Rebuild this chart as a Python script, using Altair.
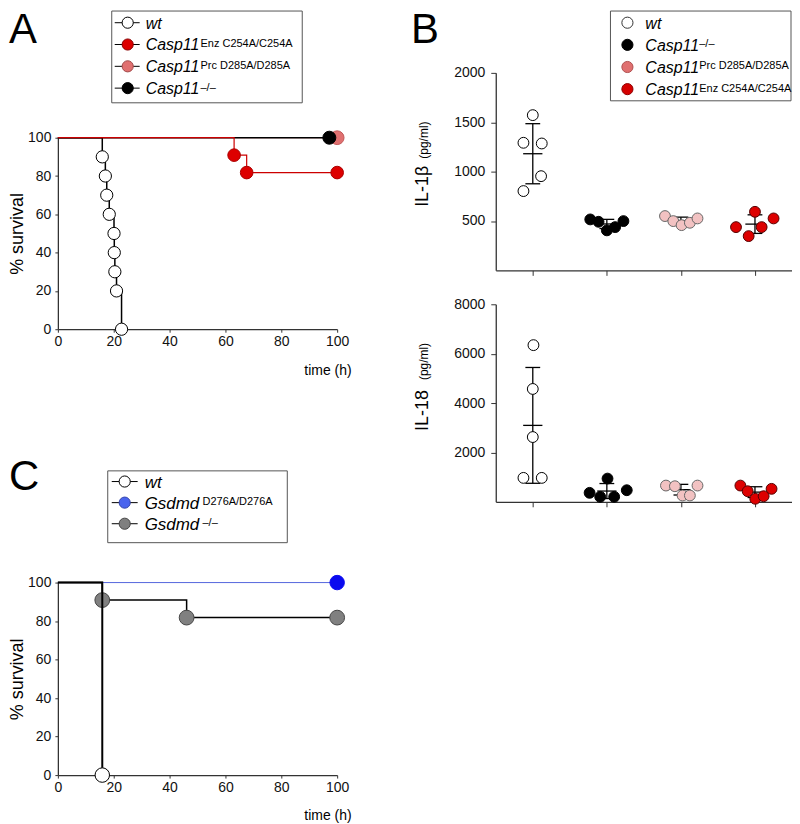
import altair as alt
import pandas as pd

FONT = "Liberation Sans"

# ---------------- Panel A: survival, Casp11 lines ----------------
A_WT_T = [0, 15.9, 17.0, 17.5, 18.4, 20.1, 20.2, 20.4, 21.0, 22.8]
A_WT_S = [100, 90, 80, 70, 60, 50, 40, 30, 20, 0]
A_ENZ_T = [0, 63.1, 67.6, 100]
A_ENZ_S = [100, 90.9, 81.8, 81.8]
A_PRC_T = [0, 100]
A_PRC_S = [100, 100]
A_KO_T = [0, 97.2]
A_KO_S = [100, 100]

# ---------------- Panel C: survival, Gsdmd lines ----------------
C_WT_T = [0, 15.9]
C_WT_S = [100, 0]
C_D276_T = [0, 100]
C_D276_S = [100, 100]
C_KO_T = [0, 15.9, 46.1, 100]
C_KO_S = [100, 90.9, 81.8, 81.8]

SURV_TICKS = [0, 20, 40, 60, 80, 100]

# ---------------- Panel B: cytokines ----------------
B_GROUPS = ["wt", "Casp11-/-", "Casp11 Prc", "Casp11 Enz"]
IL1B_WT = [1572, 1292, 1285, 954, 803]
IL1B_WT_DX = [0.0, -0.126, 0.121, 0.112, -0.126]
IL1B_KO = [516, 492, 405, 438, 499]
IL1B_KO_DX = [-0.224, -0.112, 0.0, 0.112, 0.224]
IL1B_PRC = [550, 499, 458, 482, 526]
IL1B_PRC_DX = [-0.215, -0.103, 0.009, 0.121, 0.224]
IL1B_ENZ = [438, 347, 593, 438, 526]
IL1B_ENZ_DX = [-0.256, -0.085, 0.0, 0.09, 0.251]

IL18_WT = [6345, 4570, 2622, 968, 968]
IL18_WT_DX = [0.009, 0.0, 0.0, -0.126, 0.121]
IL18_KO = [363, 202, 940, 202, 468]
IL18_KO_DX = [-0.233, -0.09, 0.009, 0.099, 0.269]
IL18_PRC = [657, 630, 254, 254, 657]
IL18_PRC_DX = [-0.202, -0.081, 0.022, 0.121, 0.224]
IL18_ENZ = [657, 428, 121, 226, 524]
IL18_ENZ_DX = [-0.197, -0.099, 0.004, 0.117, 0.224]

IL1B_TICKS = [500, 1000, 1500, 2000]
IL18_TICKS = [2000, 4000, 6000, 8000]

# ---------------- Legends ----------------
A_LEG_MAIN = ["wt", "Casp11", "Casp11", "Casp11"]
A_LEG_SUP = ["", "Enz C254A/C254A", "Prc D285A/D285A", "\u2013/\u2013"]
B_LEG_MAIN = ["wt", "Casp11", "Casp11", "Casp11"]
B_LEG_SUP = ["", "\u2013/\u2013", "Prc D285A/D285A", "Enz C254A/C254A"]
C_LEG_MAIN = ["wt", "Gsdmd", "Gsdmd"]
C_LEG_SUP = ["", "D276A/D276A", "\u2013/\u2013"]

AX = "#333333"
ONE = pd.DataFrame({"k": [0]})


def surv_plot(series):
    xax = alt.Axis(values=SURV_TICKS, title="time (h)", titleAnchor="end", titleAlign="right",
                   titleX=294, titleY=41, titleBaseline="middle", titleFontSize=14,
                   titleFontWeight="normal", labelFontSize=14, tickSize=3, labelPadding=2,
                   grid=False, domainColor=AX, tickColor=AX, domainWidth=1.3, labelColor="#111",
                   labelFlush=False)
    yax = alt.Axis(values=SURV_TICKS, title="% survival", titleFontSize=18, titleFontWeight="normal",
                   titlePadding=1, labelFontSize=14, tickSize=3, labelPadding=4, grid=False,
                   domainColor=AX, tickColor=AX, domainWidth=1.3, labelColor="#111")
    layers = []
    for t, s, lc, lw, fc, sc, sz in series:
        df = pd.DataFrame({"t": t, "s": s, "i": list(range(len(t)))})
        x = alt.X("t:Q", scale=alt.Scale(domain=[0, 100], nice=False, zero=False), axis=xax)
        y = alt.Y("s:Q", scale=alt.Scale(domain=[0, 100], nice=False), axis=yax)
        layers.append(alt.Chart(df).mark_line(interpolate="step-after", color=lc, strokeWidth=lw)
                      .encode(x=x, y=y, order="i:Q"))
        layers.append(alt.Chart(df).transform_filter("datum.i > 0")
                      .mark_circle(size=sz, opacity=1, fill=fc, stroke=sc, strokeWidth=1)
                      .encode(x=x, y=y))
    return alt.layer(*layers)


def legend(main, sup, fills, strokes, rows, box, dot_x, text_x, sup_x, seg, main_size,
           letter, letter_xy):
    n = len(main)
    keys = [str(i) for i in range(n)]
    df = pd.DataFrame({"row": list(range(n)), "main": main, "sup": sup, "key": keys})
    y = alt.Y("row:Q", scale=alt.Scale(domain=[0, n - 1], range=list(rows)), axis=None)
    layers = [
        alt.Chart(ONE).mark_rect(fill="white", stroke="#555555", strokeWidth=1).encode(
            x=alt.value(box[0]), x2=alt.value(box[1]), y=alt.value(box[2]), y2=alt.value(box[3]))
    ]
    if seg is not None:
        layers.append(alt.Chart(df).mark_rule(color="black", strokeWidth=1).encode(
            x=alt.value(seg[0]), x2=alt.value(seg[1]), y=y))
    layers.append(alt.Chart(df).mark_circle(size=125, opacity=1, strokeWidth=1).encode(
        x=alt.value(dot_x), y=y,
        fill=alt.Fill("key:N", scale=alt.Scale(domain=keys, range=fills), legend=None),
        stroke=alt.Stroke("key:N", scale=alt.Scale(domain=keys, range=strokes), legend=None)))
    layers.append(alt.Chart(df).mark_text(align="left", baseline="alphabetic", dy=6,
                                          fontSize=main_size, fontStyle="italic", color="black")
                  .encode(x=alt.value(text_x), y=y, text="main:N"))
    layers.append(alt.Chart(df).mark_text(align="left", baseline="alphabetic", dy=2.5,
                                          fontSize=11, color="black")
                  .encode(x=alt.value(sup_x), y=y, text="sup:N"))
    layers.append(alt.Chart(ONE).mark_text(text=letter, align="left", baseline="alphabetic",
                                           fontSize=42, color="black")
                  .encode(x=alt.value(letter_xy[0]), y=alt.value(letter_xy[1])))
    return alt.layer(*layers)


B_FILL = ["white", "black", "#f2c2c2", "#dd0000"]
B_STROKE = ["black", "black", "#666666", "#550000"]


def b_plot(vals_list, dx_list, ymax, ticks, ttl_main, ttl_y_main, ttl_y_sub):
    rows = []
    for gi, (vals, dxs) in enumerate(zip(vals_list, dx_list)):
        for v, d in zip(vals, dxs):
            rows.append({"grp": B_GROUPS[gi], "gi": gi, "v": v, "xp": gi + d})
    df = pd.DataFrame(rows)
    xs = alt.Scale(domain=[-0.5, 3.5], nice=False, zero=False)
    ys = alt.Scale(domain=[0, ymax], nice=False)
    xax = alt.Axis(values=[0, 1, 2, 3], labels=False, title=None, tickSize=5, grid=False,
                   domainColor=AX, tickColor=AX, domainWidth=1.3)
    yax = alt.Axis(values=ticks, format="d", title=None, labelFontSize=14, tickSize=5,
                   labelPadding=6, grid=False, domainColor=AX, tickColor=AX, domainWidth=1.3,
                   labelColor="#111")
    agg = (alt.Chart(df)
           .transform_aggregate(m="mean(v)", sd="stdev(v)", groupby=["gi"])
           .transform_calculate(lo="datum.m - datum.sd", hi="datum.m + datum.sd",
                                cl="datum.gi - 0.1", cr="datum.gi + 0.1",
                                ml="datum.gi - 0.13", mr="datum.gi + 0.13"))
    rule = dict(color="black", strokeWidth=1.3)
    vbar = agg.mark_rule(**rule).encode(x=alt.X("gi:Q", scale=xs, axis=xax),
                                        y=alt.Y("lo:Q", scale=ys, axis=yax), y2="hi:Q")
    cap_hi = agg.mark_rule(**rule).encode(x=alt.X("cl:Q", scale=xs, axis=xax), x2="cr:Q",
                                          y=alt.Y("hi:Q", scale=ys, axis=yax))
    cap_lo = agg.mark_rule(**rule).encode(x=alt.X("cl:Q", scale=xs, axis=xax), x2="cr:Q",
                                          y=alt.Y("lo:Q", scale=ys, axis=yax))
    mean = agg.mark_rule(**rule).encode(x=alt.X("ml:Q", scale=xs, axis=xax), x2="mr:Q",
                                        y=alt.Y("m:Q", scale=ys, axis=yax))
    pts = alt.Chart(df).mark_circle(size=118, opacity=1, strokeWidth=1).encode(
        x=alt.X("xp:Q", scale=xs, axis=xax), y=alt.Y("v:Q", scale=ys, axis=yax),
        fill=alt.Fill("grp:N", scale=alt.Scale(domain=B_GROUPS, range=B_FILL), legend=None),
        stroke=alt.Stroke("grp:N", scale=alt.Scale(domain=B_GROUPS, range=B_STROKE), legend=None))
    t1 = alt.Chart(ONE).mark_text(text=ttl_main, angle=270, align="right", baseline="alphabetic",
                                  fontSize=18, color="black").encode(
        x=alt.value(-68), y=alt.value(ttl_y_main))
    t2 = alt.Chart(ONE).mark_text(text="(pg/ml)", angle=270, align="left", baseline="alphabetic",
                                  fontSize=12, color="black").encode(
        x=alt.value(-68), y=alt.value(ttl_y_sub))
    return alt.layer(vbar, cap_hi, cap_lo, mean, pts, t1, t2)


# ---- Panel A ----
plotA = surv_plot([
    (A_PRC_T, A_PRC_S, "#e07070", 1.2, "#e07070", "#c05858", 190),
    (A_KO_T, A_KO_S, "black", 1.5, "black", "black", 170),
    (A_WT_T, A_WT_S, "black", 1.5, "white", "black", 150),
    (A_ENZ_T, A_ENZ_S, "#cc0000", 1.2, "#dd0000", "#aa0000", 160),
])
legA = legend(A_LEG_MAIN, A_LEG_SUP, ["white", "#dd0000", "#e07070", "black"],
              ["black", "#880000", "#a04848", "black"],
              (-115.3, -49.7), (54, 245, -127, -35), 70, 88, 143, (57, 82), 16, "A", (-49, -95))
panelA = (alt.layer(plotA, legA)
          .resolve_scale(y="independent", fill="independent", stroke="independent")
          .properties(width=280, height=192))

# ---- Panel C ----
plotC = surv_plot([
    (C_D276_T, C_D276_S, "#5566dd", 1.0, "#0a0aef", "#0a0aef", 210),
    (C_KO_T, C_KO_S, "black", 1.5, "#808080", "#444444", 220),
    (C_WT_T, C_WT_S, "black", 2.0, "white", "black", 210),
])
legC = legend(C_LEG_MAIN, C_LEG_SUP, ["white", "#4a64ee", "#7f7f7f"],
              ["black", "#3344aa", "#444444"],
              (-101.3, -59), (50, 230, -112, -40), 67, 87, 145, (54, 80), 17, "C", (-49, -93))
panelC = (alt.layer(plotC, legC)
          .resolve_scale(y="independent", fill="independent", stroke="independent")
          .properties(width=280, height=193))

# ---- Panel B ----
plotB1 = b_plot([IL1B_WT, IL1B_KO, IL1B_PRC, IL1B_ENZ],
                [IL1B_WT_DX, IL1B_KO_DX, IL1B_PRC_DX, IL1B_ENZ_DX],
                2000, IL1B_TICKS, "IL-1\u03b2", 93, 86)
legB = legend(B_LEG_MAIN, B_LEG_SUP, ["white", "black", "#e07070", "#d50000"],
              ["#333333", "black", "#b05050", "#900000"],
              (-50.3, 16.3), (115, 296, -62, 28), 132, 150, 204, None, 16, "B", (-85, -30))
panelB1 = (alt.layer(plotB1, legB)
           .resolve_scale(y="independent", fill="independent", stroke="independent")
           .properties(width=297, height=198))

panelB2 = b_plot([IL18_WT, IL18_KO, IL18_PRC, IL18_ENZ],
                 [IL18_WT_DX, IL18_KO_DX, IL18_PRC_DX, IL18_ENZ_DX],
                 8000, IL18_TICKS, "IL-18", 86, 76).properties(width=297, height=198)

spacer = (alt.Chart(ONE).mark_point(opacity=0)
          .encode(x=alt.value(0), y=alt.value(0))
          .properties(width=280, height=65))

# with "flush" bounds a nested concat counts as zero-sized, so the spacing
# values below are the offsets between the plot areas' origins
left = alt.vconcat(alt.vconcat(spacer, panelA, spacing=0, bounds="flush"), panelC,
                   spacing=511, bounds="flush")
right = alt.vconcat(panelB1, panelB2, spacing=34, bounds="flush")

chart = (alt.hconcat(left, right, spacing=439, bounds="flush")
         .properties(padding=0)
         .configure(font=FONT)
         .configure_view(strokeWidth=0))

chart.save("out.html", embed_options={"renderer": "svg", "actions": False})
